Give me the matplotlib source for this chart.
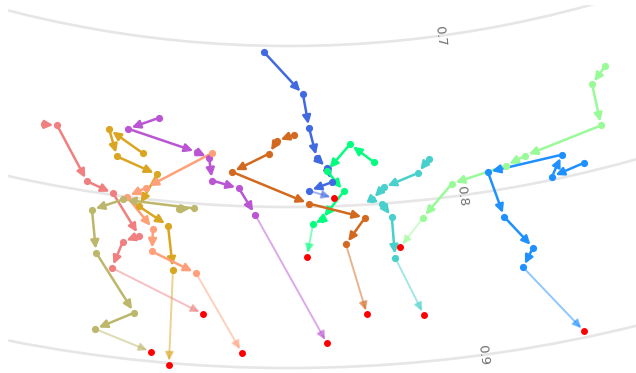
import numpy as np
import matplotlib
matplotlib.use("Agg")
import matplotlib.pyplot as plt
from matplotlib.patches import Rectangle

# paths in polar coords: theta (degrees), r; the last entry is the red end point
royalblue_theta = [268.74, 270.68, 270.95, 271.29, 271.74, 271.95, 270.90, 272.02]
royalblue_r = [0.704, 0.730, 0.751, 0.770, 0.776, 0.785, 0.790, 0.795]

springgreen_theta = [273.91, 272.85, 271.74, 272.47, 271.45, 271.05, 270.77]
springgreen_r = [0.774, 0.762, 0.778, 0.791, 0.808, 0.811, 0.831]

chocolate_theta = [270.24, 269.44, 269.07, 267.40, 270.89, 273.35, 272.46, 273.20]
chocolate_r = [0.755, 0.759, 0.767, 0.779, 0.798, 0.808, 0.824, 0.868]

mediumorchid_theta = [263.81, 262.42, 265.73, 266.31, 266.51, 267.74, 268.50, 271.53]
mediumorchid_r = [0.749, 0.758, 0.768, 0.771, 0.785, 0.789, 0.805, 0.885]

goldenrod_theta = [263.25, 261.55, 262.09, 264.00, 263.35, 264.71, 265.09, 265.25]
goldenrod_r = [0.772, 0.760, 0.776, 0.784, 0.805, 0.815, 0.842, 0.901]

lightsalmon_theta = [266.43, 263.57, 262.78, 264.07, 264.13, 266.07, 268.12]
lightsalmon_r = [0.768, 0.793, 0.800, 0.818, 0.832, 0.843, 0.891]

lightcoral_theta = [258.51, 259.12, 260.91, 262.14, 263.50, 262.84, 262.52, 266.47]
lightcoral_r = [0.764, 0.763, 0.794, 0.799, 0.823, 0.828, 0.845, 0.868]

darkkhaki_theta = [265.12, 265.79, 262.61, 261.32, 261.77, 263.66, 262.17, 264.50]
darkkhaki_r = [0.804, 0.803, 0.802, 0.811, 0.837, 0.871, 0.884, 0.894]

mediumturquoise_theta = [276.44, 275.87, 274.28, 273.71, 274.14, 274.53, 274.53, 275.52]
mediumturquoise_r = [0.775, 0.783, 0.790, 0.797, 0.800, 0.809, 0.834, 0.871]

palegreen_theta = [285.40, 284.58, 284.50, 280.81, 279.87, 277.34, 275.89, 274.78]
palegreen_r = [0.739, 0.748, 0.774, 0.782, 0.786, 0.792, 0.811, 0.828]

dodgerblue_theta = [283.35, 281.81, 282.46, 279.02, 279.41, 280.41, 279.85, 281.80]
dodgerblue_r = [0.794, 0.798, 0.786, 0.788, 0.817, 0.839, 0.850, 0.896]

r_ticks = [0.7, 0.8, 0.9]
r_labels = ["0.7", "0.8", "0.9"]

paths = [
    ("royalblue", royalblue_theta, royalblue_r),
    ("springgreen", springgreen_theta, springgreen_r),
    ("chocolate", chocolate_theta, chocolate_r),
    ("mediumorchid", mediumorchid_theta, mediumorchid_r),
    ("goldenrod", goldenrod_theta, goldenrod_r),
    ("lightsalmon", lightsalmon_theta, lightsalmon_r),
    ("lightcoral", lightcoral_theta, lightcoral_r),
    ("darkkhaki", darkkhaki_theta, darkkhaki_r),
    ("mediumturquoise", mediumturquoise_theta, mediumturquoise_r),
    ("palegreen", palegreen_theta, palegreen_r),
    ("dodgerblue", dodgerblue_theta, dodgerblue_r),
]

W, H = 636, 373
fig = plt.figure(figsize=(W / 100, H / 100), dpi=100)
fig.patch.set_facecolor("white")

# only a small window of a big polar plot is visible (pole far above the figure)
cx, cy, rad = 289, H + 1081, 1610
ax = fig.add_axes([(cx - rad) / W, (cy - rad) / H, 2 * rad / W, 2 * rad / H],
                  projection="polar")
ax.set_ylim(0, 1)
ax.set_xticks([])
ax.set_yticks(r_ticks)
ax.set_yticklabels([])
ax.yaxis.grid(True, color="#e6e6e6", lw=1.9)
ax.tick_params(axis="y", length=0)
for sp in ax.spines.values():
    sp.set_visible(False)

lab_theta = np.deg2rad(277.7)
for rv, lab in zip(r_ticks, r_labels):
    ax.text(lab_theta, rv, lab, rotation=-82.3, rotation_mode="anchor",
            ha="center", va="center", fontsize=9.5, color="#707070", zorder=5)

for color, th_deg, rr in paths:
    th = np.deg2rad(th_deg)
    n = len(th)
    for i in range(n - 1):
        last = i == n - 2
        ax.annotate("", xy=(th[i + 1], rr[i + 1]), xytext=(th[i], rr[i]),
                    arrowprops=dict(arrowstyle="-|>,head_length=0.55,head_width=0.27",
                                    color=color,
                                    lw=1.4 if last else 1.8,
                                    alpha=0.5 if last else 1.0,
                                    mutation_scale=9, shrinkA=2.5, shrinkB=2.8),
                    zorder=3)
    ax.plot(th[:-1], rr[:-1], "o", color=color, ms=5.2, mec="none", zorder=4)
    ax.plot(th[-1], rr[-1], "o", color="red", ms=5, mec="none", zorder=4)

# plot area edge on the left / top
fig.add_artist(Rectangle((0, 0), 7 / W, 1, transform=fig.transFigure,
                         color="white", zorder=10))
fig.add_artist(Rectangle((0, 1 - 4 / H), 1, 4 / H, transform=fig.transFigure,
                         color="white", zorder=10))

fig.savefig("out.png", dpi=100, facecolor="white")
